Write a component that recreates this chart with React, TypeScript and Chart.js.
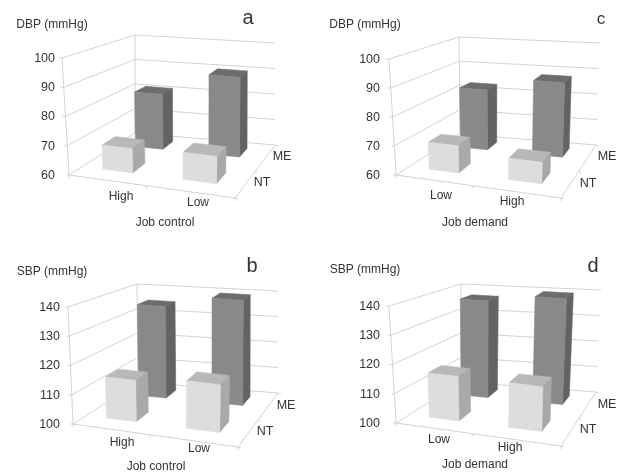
import React, { useEffect, useRef } from "react";
import { Chart, registerables } from "chart.js";

Chart.register(...registerables);

const depthLabels = ["NT", "ME"];
const controlLabels = ["High", "Low"];
const demandLabels = ["Low", "High"];
const dbpTicks = [60, 100];
const sbpTicks = [100, 140];

const aNT = [68.5, 69.4];
const aME = [81, 90];
const cNT = [69.6, 67.4];
const cME = [83, 88];
const bNT = [114.5, 116.5];
const bME = [135, 139.5];
const dNT = [115.6, 115.5];
const dME = [137, 139.8];

type Pt = [number, number];
interface Panel {
  left: number; top: number;
  letter: string; letterSize: number; letterPos: Pt;
  yTitle: string; yTitlePos: Pt;
  xTitle: string; xTitlePos: Pt;
  categories: string[]; nt: number[]; me: number[]; range: number[];
  catPos: Pt[]; depthPos: Pt[]; tickRight: number;
  flb: Pt; frb: Pt; blb: Pt; brb: Pt; flt: Pt; frt: Pt; blt: Pt; brt: Pt;
}

const panels: Panel[] = [
  { left: 0, top: 0, letter: "a", letterSize: 20, letterPos: [248, 18],
    yTitle: "DBP (mmHg)", yTitlePos: [52, 25], xTitle: "Job control", xTitlePos: [165, 223],
    categories: controlLabels, nt: aNT, me: aME, range: dbpTicks,
    catPos: [[121, 197], [198, 203]], depthPos: [[262, 183], [282, 157]], tickRight: 55,
    flb: [69, 175], frb: [235, 198], blb: [135, 133], brb: [275, 145],
    flt: [62, 58], frt: [240, 78], blt: [135, 35], brt: [275, 43] },
  { left: 309, top: 0, letter: "c", letterSize: 17, letterPos: [292, 19],
    yTitle: "DBP (mmHg)", yTitlePos: [56, 25], xTitle: "Job demand", xTitlePos: [166, 223],
    categories: demandLabels, nt: cNT, me: cME, range: dbpTicks,
    catPos: [[132, 196], [203, 202]], depthPos: [[279, 184], [298, 157]], tickRight: 71,
    flb: [87, 175], frb: [252, 198], blb: [151, 134], brb: [287, 145],
    flt: [80, 59], frt: [257, 78], blt: [150, 37], brt: [291, 43] },
  { left: 0, top: 237, letter: "b", letterSize: 20, letterPos: [252, 29],
    yTitle: "SBP (mmHg)", yTitlePos: [52, 35], xTitle: "Job control", xTitlePos: [156, 230],
    categories: controlLabels, nt: bNT, me: bME, range: sbpTicks,
    catPos: [[122, 206], [199, 212]], depthPos: [[265, 195], [286, 169]], tickRight: 60,
    flb: [73, 187], frb: [238, 210], blb: [138, 145], brb: [278, 156],
    flt: [68, 70], frt: [243, 90], blt: [137, 47], brt: [278, 54] },
  { left: 309, top: 237, letter: "d", letterSize: 20, letterPos: [284, 29],
    yTitle: "SBP (mmHg)", yTitlePos: [56, 33], xTitle: "Job demand", xTitlePos: [166, 228],
    categories: demandLabels, nt: dNT, me: dME, range: sbpTicks,
    catPos: [[130, 203], [201, 211]], depthPos: [[279, 193], [298, 168]], tickRight: 71,
    flb: [87, 186], frb: [252, 209], blb: [152, 145], brb: [287, 155],
    flt: [80, 69], frt: [257, 89], blt: [152, 47], brt: [292, 53] },
];

const FONT = '"Liberation Sans", Arial, sans-serif';
const TEXT = "#333333";
const GRID = "#d2d2d2";
const NT_FACES = { front: "#dcddde", top: "#b7b8ba", side: "#a8a9ab" };
const ME_FACES = { front: "#88898b", top: "#6c6d6f", side: "#626365" };
const DEPTH_HALF = 0.105;
const NT_DEPTH = 0.21;
const ME_DEPTH = 0.17;

const lerp = (a: Pt, b: Pt, t: number): Pt => [a[0] + (b[0] - a[0]) * t, a[1] + (b[1] - a[1]) * t];
const warpU = (u: number) => Math.pow(u, 1.1);
const warpV = (v: number) => 0.05 + 1.04 * v;

function project(p: Panel, u: number, v: number, w: number): Pt {
  const bottom = lerp(lerp(p.flb, p.frb, u), lerp(p.blb, p.brb, u), v);
  const top = lerp(lerp(p.flt, p.frt, u), lerp(p.blt, p.brt, u), v);
  return lerp(bottom, top, w);
}

function line(ctx: CanvasRenderingContext2D, a: Pt, b: Pt) {
  ctx.beginPath();
  ctx.moveTo(a[0], a[1]);
  ctx.lineTo(b[0], b[1]);
  ctx.stroke();
}

function face(ctx: CanvasRenderingContext2D, pts: Pt[], fill: string) {
  ctx.beginPath();
  pts.forEach((q, i) => (i ? ctx.lineTo(q[0], q[1]) : ctx.moveTo(q[0], q[1])));
  ctx.closePath();
  ctx.fillStyle = fill;
  ctx.fill();
  ctx.strokeStyle = fill;
  ctx.lineWidth = 0.5;
  ctx.stroke();
}

function text(ctx: CanvasRenderingContext2D, s: string, pos: Pt, size: number, align: CanvasTextAlign = "center") {
  ctx.font = `${size}px ${FONT}`;
  ctx.fillStyle = TEXT;
  ctx.textAlign = align;
  ctx.textBaseline = "middle";
  ctx.fillText(s, pos[0], pos[1]);
}

const boxPlugin = (p: Panel) => ({
  id: "box3d",
  beforeDatasetsDraw(chart: any) {
    const { ctx, scales } = chart;
    const area = chart.chartArea;
    ctx.save();
    ctx.strokeStyle = GRID;
    ctx.lineWidth = 1;
    for (const t of scales.y.ticks) {
      const w = (area.bottom - scales.y.getPixelForValue(t.value)) / (area.bottom - area.top);
      const a = project(p, 0, 0, w);
      line(ctx, [a[0] - 3, a[1]], a);
      line(ctx, a, project(p, 0, 1, w));
      line(ctx, project(p, 0, 1, w), project(p, 1, 1, w));
      text(ctx, String(t.value), [p.tickRight, a[1] + 0.5], 12.5, "right");
      ctx.strokeStyle = GRID;
      ctx.lineWidth = 1;
    }
    line(ctx, p.flb, p.flt);
    line(ctx, p.blb, p.blt);
    line(ctx, p.flb, p.frb);
    line(ctx, p.frb, p.brb);
    [0, 0.5, 1].forEach((u) => {
      const a = project(p, warpU(u), 0, 0);
      line(ctx, a, [a[0], a[1] + 3]);
      const b = project(p, 1, u, 0);
      line(ctx, b, [b[0] + 3, b[1] + 1]);
    });
    ctx.restore();
  },
  beforeDatasetDraw(chart: any, args: any) {
    const { ctx, scales } = chart;
    const area = chart.chartArea;
    const depth = scales.depth;
    const ds = chart.data.datasets[args.index];
    const idx = depth.getLabels().indexOf(ds.label);
    const vc = warpV((depth.getPixelForValue(idx) - area.left) / (area.right - area.left));
    const isNT = ds.label === "NT";
    const v0 = vc - DEPTH_HALF;
    const v1 = v0 + (isNT ? NT_DEPTH : ME_DEPTH);
    const faces = isNT ? NT_FACES : ME_FACES;
    const H = area.bottom - area.top;
    const W = area.right - area.left;
    ctx.save();
    for (const el of args.meta.data) {
      const u0 = warpU((el.x - el.width / 2 - area.left) / W);
      const u1 = warpU((el.x + el.width / 2 - area.left) / W);
      const w0 = (area.bottom - Math.min(el.base, area.bottom)) / H;
      const w1 = (area.bottom - el.y) / H;
      face(ctx, [project(p, u0, v0, w1), project(p, u1, v0, w1), project(p, u1, v1, w1), project(p, u0, v1, w1)], faces.top);
      face(ctx, [project(p, u1, v0, w0), project(p, u1, v1, w0), project(p, u1, v1, w1), project(p, u1, v0, w1)], faces.side);
      face(ctx, [project(p, u0, v0, w0), project(p, u1, v0, w0), project(p, u1, v0, w1), project(p, u0, v0, w1)], faces.front);
    }
    ctx.restore();
    return false;
  },
  afterDatasetsDraw(chart: any) {
    const { ctx } = chart;
    ctx.save();
    text(ctx, p.letter, p.letterPos, p.letterSize);
    text(ctx, p.yTitle, p.yTitlePos, 12);
    text(ctx, p.xTitle, p.xTitlePos, 12);
    p.categories.forEach((c, i) => text(ctx, c, p.catPos[i], 12));
    depthLabels.forEach((c, i) => text(ctx, c, p.depthPos[i], 12.5));
    ctx.restore();
  },
});

function PanelChart({ panel }: { panel: Panel }) {
  const ref = useRef<HTMLCanvasElement>(null);
  useEffect(() => {
    const chart = new Chart(ref.current as HTMLCanvasElement, {
      type: "bar",
      data: {
        labels: panel.categories,
        datasets: [
          { label: depthLabels[0], data: panel.nt, grouped: false, barPercentage: 0.39, categoryPercentage: 1 },
          { label: depthLabels[1], data: panel.me, grouped: false, barPercentage: 0.39, categoryPercentage: 1 },
        ],
      } as any,
      options: {
        animation: false,
        responsive: false,
        layout: { padding: 0 },
        plugins: { legend: { display: false }, tooltip: { enabled: false } },
        scales: {
          x: { display: false, offset: true },
          y: { display: false, min: panel.range[0], max: panel.range[1], ticks: { stepSize: 10 } },
          depth: { type: "category", axis: "x", position: "top", display: false, offset: true, labels: depthLabels },
        },
      } as any,
      plugins: [boxPlugin(panel)],
    });
    return () => chart.destroy();
  }, [panel]);
  return (
    <canvas
      ref={ref}
      width={309}
      height={237}
      style={{ position: "absolute", left: panel.left, top: panel.top, width: 309, height: 237 }}
    />
  );
}

export default function App() {
  return (
    <div style={{ position: "absolute", left: 0, top: 0, width: 618, height: 474, background: "#fff", filter: "blur(0.4px)" }}>
      {panels.map((p) => (
        <PanelChart key={p.letter} panel={p} />
      ))}
    </div>
  );
}
